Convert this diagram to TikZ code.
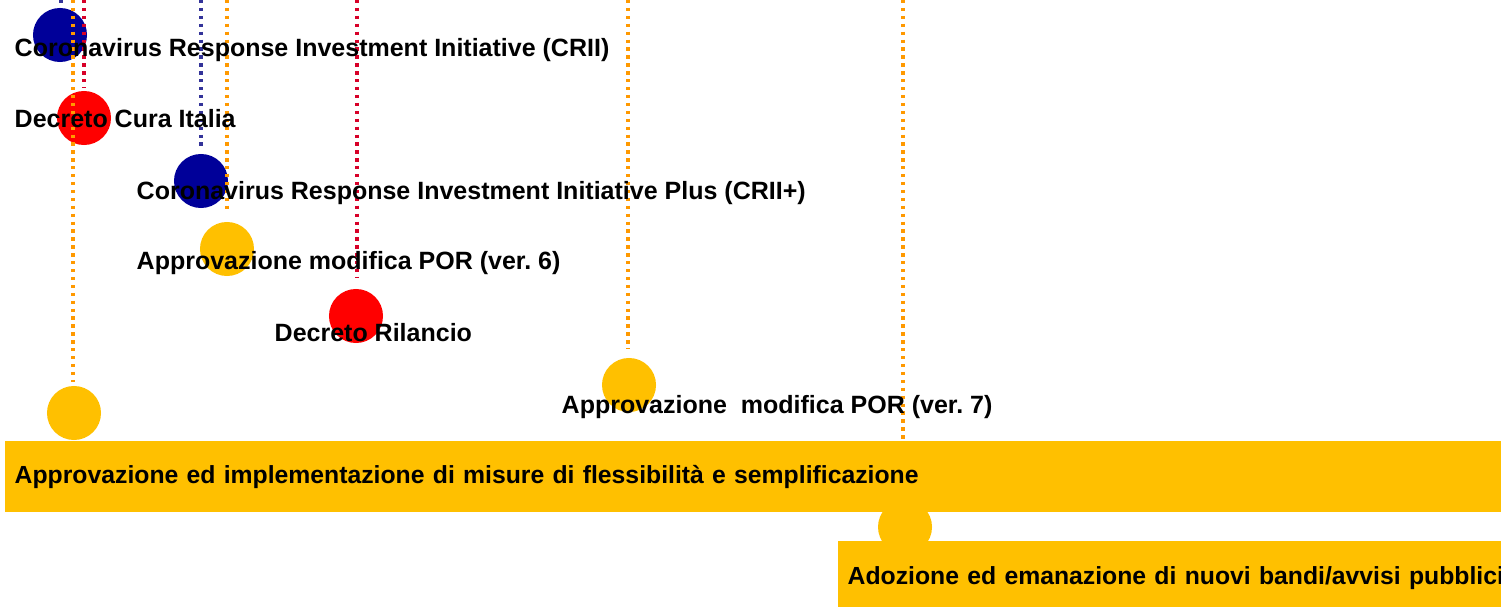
\documentclass[tikz,border=0pt]{standalone}
\usepackage{fontspec}
\setmainfont{Liberation Sans}
\frenchspacing
\definecolor{navydot}{RGB}{0,0,153}
\definecolor{reddot}{RGB}{255,0,0}
\definecolor{golddot}{RGB}{255,192,0}
\definecolor{orangeline}{RGB}{255,153,0}
\definecolor{redline}{RGB}{215,0,40}
\definecolor{blueline}{RGB}{51,51,153}
\begin{document}
\begin{tikzpicture}[x=0.01cm,y=-0.01cm,
    dot/.style={circle,inner sep=0pt,minimum size=0.54cm,draw=none},
    bluedot/.style={dot,fill=navydot},
    reddotc/.style={dot,fill=reddot},
    golddotc/.style={dot,fill=golddot},
    tick/.style={line width=0.9pt,dash pattern=on 0.95pt off 1.3pt,shorten >=0.03cm},
    lbl/.style={anchor=base west,inner sep=0pt,font=\fontsize{7.11pt}{8.5pt}\selectfont\bfseries},
    bar/.style={anchor=north west,fill=golddot,inner xsep=0.1cm,inner ysep=0pt,align=left,
      font=\fontsize{7.04pt}{8.5pt}\selectfont\bfseries}]
  \useasboundingbox (0,0) rectangle (1501,607);
  \draw
    (60,35) node[bluedot] (c1){}
    (84,118) node[reddotc] (c2){}
    (201,181) node[bluedot] (c3){}
    (227,249) node[golddotc] (c4){}
    (356,316) node[reddotc] (c5){}
    (629,385) node[golddotc] (c6){}
    (74,413) node[golddotc] (c7){}
    (905,527) node[golddotc] (c8){};
  \coordinate (t1) at (61,0);
  \coordinate (t2) at (73,0);
  \coordinate (t3) at (84,0);
  \coordinate (t4) at (201,0);
  \coordinate (t5) at (227,0);
  \coordinate (t6) at (357,0);
  \coordinate (t7) at (628,0);
  \coordinate (t8) at (903,0);
  \begin{scope}[tick]
    \draw[blueline] (t1) to (t1 |- c1.north);
    \draw[orangeline] (t2) to (t2 |- c7.north);
    \draw[redline] (t3) to (t3 |- c2.north);
    \draw[blueline] (t4) to (t4 |- c3.north);
    \draw[orangeline] (t5) to ([yshift=0.06cm]t5 |- c4.north);
    \draw[redline] (t6) to ([yshift=0.08cm]t6 |- c5.north);
    \draw[orangeline] (t7) to ([yshift=0.05cm]t7 |- c6.north);
    \draw[orangeline] (t8) to (t8 |- c8.north);
  \end{scope}
  \node[bar,minimum width=15.1cm,minimum height=0.71cm,text height=0.18cm,text depth=0.03cm,text width=14.9cm] (b1) at (4,440)
    {\mbox{Approvazione ed implementazione di misure di flessibilità e semplificazione}};
  \node[bar,minimum width=6.8cm,minimum height=0.67cm,text height=0.21cm,text depth=0cm,text width=6.6cm] (b2) at (837,540)
    {\mbox{Adozione ed emanazione di nuovi bandi/avvisi pubblici}};
  \node[lbl] (l1) at (14,57) {Coronavirus Response Investment Initiative (CRII)};
  \node[lbl] (l2) at (14,128) {Decreto Cura Italia};
  \node[lbl] (l3) at (136,200) {Coronavirus Response Investment Initiative Plus (CRII+)};
  \node[lbl] (l4) at (136,270) {Approvazione modifica POR (ver. 6)};
  \node[lbl] (l5) at (274,342) {Decreto Rilancio};
  \node[lbl] (l6) at (561,413) {Approvazione\ \ modifica POR (ver. 7)};
\end{tikzpicture}
\end{document}
